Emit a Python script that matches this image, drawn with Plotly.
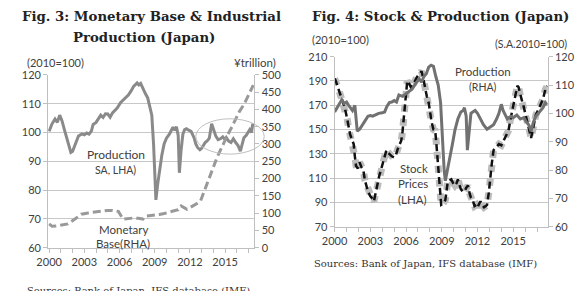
import plotly.graph_objects as go

# ---------------- Data ----------------
# Fig. 3 (left): Industrial production (SA, 2010=100, LHA)
prod3_years = [2000.0, 2000.25, 2000.5, 2000.7, 2000.9, 2001.1, 2001.3, 2001.5, 2001.7, 2001.85,
               2002.0, 2002.3, 2002.5, 2002.8, 2003.0, 2003.2, 2003.4, 2003.6, 2003.75, 2004.0,
               2004.2, 2004.4, 2004.6, 2004.8, 2005.0, 2005.2, 2005.4, 2005.6, 2005.8, 2006.1,
               2006.3, 2006.5, 2006.75, 2007.0, 2007.2, 2007.5, 2007.65, 2007.8, 2008.0, 2008.2,
               2008.4, 2008.6, 2008.75, 2008.9, 2009.0, 2009.1, 2009.25, 2009.4, 2009.6, 2009.8,
               2010.0, 2010.25, 2010.4, 2010.55, 2010.7, 2010.85, 2011.0, 2011.1, 2011.25, 2011.4,
               2011.55, 2011.7, 2011.9, 2012.1, 2012.35, 2012.5, 2012.65, 2012.85, 2013.0, 2013.15,
               2013.3, 2013.5, 2013.65, 2013.85, 2014.0, 2014.2, 2014.4, 2014.6, 2014.8, 2015.0,
               2015.1, 2015.3, 2015.5, 2015.7, 2015.9, 2016.1, 2016.3, 2016.45, 2016.6, 2016.8,
               2017.0, 2017.1, 2017.25, 2017.35, 2017.45]
prod3_values = [100.4, 103.0, 104.7, 103.5, 106.0, 104.0, 101.0, 98.0, 94.5, 93.1,
                93.5, 96.5, 98.8, 99.5, 99.2, 99.8, 99.4, 100.5, 102.8, 103.5,
                105.0, 106.0, 105.2, 106.5, 106.4, 105.3, 106.8, 107.5, 108.5, 110.4,
                111.2, 112.0, 113.0, 114.5, 116.0, 117.2, 116.5, 117.0, 115.0, 113.5,
                112.0, 109.0, 106.0, 96.0, 84.0, 76.6, 82.0, 87.0, 92.0, 96.0,
                98.0, 99.4, 100.5, 101.8, 100.8, 102.0, 99.0, 86.0, 94.0, 99.4,
                101.0, 101.3, 100.8, 100.4, 98.2, 96.0, 94.8, 94.0, 94.5, 95.5,
                96.5, 97.2, 98.0, 103.0, 101.0, 98.8, 97.5, 97.8, 98.5, 97.5,
                98.2, 97.0, 96.5, 97.8, 96.5, 95.5, 93.5, 96.0, 98.2, 99.0,
                100.5, 101.0, 100.0, 103.0, 102.0]

# Fig. 3 (left): Monetary base (yen trillion, RHA)
mbase_years = [2000.0, 2000.25, 2000.6, 2001.1, 2001.6, 2002.2, 2002.75, 2003.2, 2003.6, 2004.1,
               2004.6, 2005.0, 2005.4, 2005.9, 2006.3, 2006.7, 2007.2, 2007.6, 2008.0, 2008.2,
               2008.6, 2009.0, 2009.4, 2009.8, 2010.2, 2010.7, 2011.0, 2011.25, 2011.5, 2011.75,
               2012.0, 2012.3, 2012.6, 2012.9, 2013.2, 2013.4, 2013.6, 2013.8, 2014.0, 2014.3,
               2014.6, 2014.9, 2015.25, 2015.6, 2015.9, 2016.2, 2016.6, 2017.0, 2017.4]
mbase_values = [69, 62, 63, 66, 69, 83, 97, 100, 102, 105,
                108, 108, 108, 105, 83, 85, 86, 85, 83, 91,
                92, 94, 96, 99, 103, 107, 110, 121, 115, 111,
                116, 121, 128, 135, 163, 182, 199, 217, 235, 260,
                282, 305, 329, 351, 373, 393, 414, 440, 470]

# Fig. 4 (right): Stock prices (2010=100, LHA)
stock_years = [2000.0, 2000.1, 2000.3, 2000.5, 2000.7, 2000.85, 2001.05, 2001.2, 2001.3, 2001.45,
               2001.6, 2001.7, 2001.8, 2001.95, 2002.1, 2002.25, 2002.4, 2002.55, 2002.7, 2002.8,
               2003.0, 2003.1, 2003.3, 2003.45, 2003.6, 2003.75, 2003.9, 2004.1, 2004.35, 2004.5,
               2004.6, 2004.8, 2005.0, 2005.15, 2005.3, 2005.45, 2005.6, 2005.7, 2005.8, 2005.95,
               2006.1, 2006.25, 2006.4, 2006.55, 2006.65, 2006.9, 2007.1, 2007.3, 2007.45, 2007.6,
               2007.75, 2007.9, 2008.05, 2008.15, 2008.3, 2008.45, 2008.55, 2008.7, 2008.8, 2008.95,
               2009.1, 2009.3, 2009.5, 2009.65, 2009.8, 2009.95, 2010.1, 2010.25, 2010.35, 2010.5,
               2010.6, 2010.75, 2010.9, 2011.05, 2011.2, 2011.35, 2011.45, 2011.6, 2011.75, 2011.9,
               2012.0, 2012.15, 2012.25, 2012.4, 2012.55, 2012.7, 2012.8, 2012.95, 2013.05, 2013.2,
               2013.35, 2013.5, 2013.65, 2013.8, 2014.0, 2014.2, 2014.4, 2014.6, 2014.8, 2015.05,
               2015.2, 2015.35, 2015.45, 2015.6, 2015.7, 2015.85, 2016.0, 2016.1, 2016.3, 2016.5,
               2016.65, 2016.8, 2016.9, 2017.1, 2017.3, 2017.5, 2017.7, 2017.85]
stock_values = [192, 190, 184, 178, 172, 168, 159, 150, 146, 142,
                138, 128, 120, 118, 123, 119, 117, 108, 103, 99,
                95, 94, 91, 98, 107, 112, 117, 124, 133, 131,
                130, 128, 127, 129, 134, 137, 141, 148, 159, 175,
                190, 188, 185, 187, 188, 193, 196, 198, 192, 183,
                177, 172, 162, 156, 150, 149, 138, 118, 101, 88,
                89, 92, 107, 108, 109, 106, 104, 106, 109, 104,
                101, 99, 99, 102, 104, 97, 94, 92, 87, 88,
                86, 89, 91, 88, 86, 87, 88, 98, 109, 122,
                133, 135, 136, 138, 137, 141, 144, 149, 160, 172,
                178, 186, 185, 178, 175, 170, 164, 159, 152, 143,
                150, 158, 162, 166, 170, 175, 183, 186]

# Fig. 4 (right): Industrial production (S.A. 2010=100, RHA)
prod4_years = [2000.0, 2000.2, 2000.4, 2000.6, 2000.8, 2001.0, 2001.15, 2001.3, 2001.5, 2001.7,
               2001.8, 2001.9, 2002.1, 2002.3, 2002.5, 2002.8, 2003.0, 2003.2, 2003.4, 2003.7,
               2004.0, 2004.2, 2004.4, 2004.6, 2004.8, 2005.0, 2005.2, 2005.4, 2005.7, 2006.0,
               2006.25, 2006.5, 2006.8, 2007.1, 2007.3, 2007.5, 2007.7, 2007.9, 2008.1, 2008.3,
               2008.5, 2008.7, 2008.9, 2009.05, 2009.2, 2009.3, 2009.5, 2009.7, 2009.9, 2010.1,
               2010.35, 2010.6, 2010.8, 2010.9, 2011.05, 2011.15, 2011.3, 2011.45, 2011.6, 2011.8,
               2012.0, 2012.25, 2012.5, 2012.8, 2013.0, 2013.35, 2013.6, 2013.8, 2014.0, 2014.15,
               2014.5, 2014.8, 2015.0, 2015.3, 2015.6, 2015.9, 2016.1, 2016.3, 2016.5, 2016.7,
               2016.9, 2017.1, 2017.3, 2017.5, 2017.7, 2017.85]
prod4_values = [100.5, 102.0, 103.0, 104.8, 103.5, 104.0, 103.0, 102.0, 101.0, 102.8,
                98.0, 93.7, 94.4, 95.5, 97.0, 99.0, 99.2, 99.0, 99.4, 100.0,
                100.2, 100.5, 102.5, 103.8, 104.0, 104.5, 104.0, 106.5, 106.0, 107.0,
                107.9, 108.5, 110.5, 112.2, 111.0, 113.0, 114.0, 116.3, 117.0, 116.6,
                113.0, 110.0, 103.8, 90.0, 80.0, 76.2, 81.0, 86.0, 89.3, 94.0,
                98.0, 100.5, 101.0, 102.0, 99.0, 87.0, 95.0, 100.0, 100.5, 101.0,
                100.0, 98.0, 96.0, 94.4, 95.0, 96.0, 98.0, 100.0, 103.2, 101.0,
                98.0, 99.0, 98.5, 99.4, 98.0, 98.5, 97.0, 96.0, 93.7, 97.0,
                99.0, 100.0, 101.0, 102.0, 103.8, 103.0]

# Axis ticks
year_ticks = list(range(2000, 2018))
year_labels = [str(y) if (y - 2000) % 3 == 0 else "" for y in year_ticks]

# ---------------- Figure ----------------
W, H = 580, 291
def px(x):
    return x / W
def py(y):
    return 1 - y / H

SANS = "Lato, 'Open Sans', sans-serif"
SERIF = "'DejaVu Serif', serif"
TICKC = "#404040"
GRID = "#c8c8c8"
AXC = "#bfbfbf"

fig = go.Figure()

fig.add_trace(go.Scatter(x=mbase_years, y=mbase_values, xaxis="x", yaxis="y2", mode="lines",
                         line=dict(color="#999999", width=3, dash="8px,4px"), showlegend=False))
fig.add_trace(go.Scatter(x=prod3_years, y=prod3_values, xaxis="x", yaxis="y", mode="lines",
                         line=dict(color="#8a8a8a", width=3), showlegend=False))

fig.add_trace(go.Scatter(x=stock_years, y=stock_values, xaxis="x2", yaxis="y3", mode="lines",
                         line=dict(color="#bcbcbc", width=7, dash="dot"), showlegend=False))
fig.add_trace(go.Scatter(x=stock_years, y=stock_values, xaxis="x2", yaxis="y3", mode="lines",
                         line=dict(color="#111111", width=2.5, dash="7px,4px"), showlegend=False))
fig.add_trace(go.Scatter(x=prod4_years, y=prod4_values, xaxis="x2", yaxis="y4", mode="lines",
                         line=dict(color="#717171", width=3), showlegend=False))

tickfont = dict(family=SANS, size=11, color=TICKC)

xcommon = dict(tickmode="array", tickvals=year_ticks, ticktext=year_labels, ticks="outside",
               ticklen=4, tickcolor=AXC, showline=True, linecolor=AXC, linewidth=1,
               showgrid=False, zeroline=False, tickfont=tickfont)
ycommon = dict(showline=True, linecolor=AXC, linewidth=1, ticks="outside", ticklen=4,
               tickcolor=AXC, zeroline=False, tickfont=tickfont)

fig.update_layout(
    width=W, height=H, margin=dict(l=0, r=0, t=0, b=0),
    paper_bgcolor="white", plot_bgcolor="white",
    xaxis=dict(domain=[px(36), px(247)], range=[1999.92, 2017.5], anchor="y", **xcommon),
    yaxis=dict(domain=[py(252), py(71)], range=[60, 120], tick0=60, dtick=10, anchor="x",
               showgrid=True, gridcolor=GRID, gridwidth=1, **ycommon),
    yaxis2=dict(range=[0, 500], tick0=0, dtick=50, overlaying="y", side="right", anchor="x",
                showgrid=False, **ycommon),
    xaxis2=dict(domain=[px(329), px(547)], range=[2000.0, 2017.9], anchor="y3", **xcommon),
    yaxis3=dict(domain=[py(230), py(52)], range=[70, 210], tick0=70, dtick=20, anchor="x2",
                showgrid=True, gridcolor=GRID, gridwidth=1, **ycommon),
    yaxis4=dict(range=[60, 120], tick0=60, dtick=10, overlaying="y3", side="right", anchor="x2",
                showgrid=False, **ycommon),
)

def note(text, x, y, size=11, family=SANS, color="#404040", bold=False):
    fig.add_annotation(text=f"<b>{text}</b>" if bold else text, x=px(x), y=py(y),
                       xref="paper", yref="paper", showarrow=False,
                       xanchor="center", yanchor="middle",
                       font=dict(family=family, size=size, color=color))

# Titles
note("Fig. 3: Monetary Base &amp; Industrial", 142, 10, size=13.3, family=SERIF, color="#222222", bold=True)
note("Production (Japan)", 134, 32, size=13.3, family=SERIF, color="#222222", bold=True)
note("Fig. 4: Stock &amp; Production (Japan)", 437, 10, size=13.3, family=SERIF, color="#222222", bold=True)

# Unit labels
note("(2010=100)", 43, 58, size=11)
note("¥trillion)", 248, 58, size=11.5)
note("(2010=100)", 335, 34, size=11)
note("(S.A.2010=100)", 530, 39, size=10.5)

# Series labels, Fig. 3
note("Production", 105, 154, size=12)
note("SA, LHA)", 105, 171, size=10.5)
note("Monetary", 113, 233, size=11.5)
note("Base(RHA)", 113, 248, size=11.5)

# Series labels, Fig. 4
note("Production", 481, 67, size=11.5)
note("(RHA)", 481, 84, size=10.5)
note("Stock", 410, 169, size=11.5)
note("Prices", 409, 185, size=11.5)
note("(LHA)", 409, 202, size=11.5)

# Sources
note("Sources: Bank of Japan, IFS database (IMF)", 422, 269, size=10, family=SERIF, color="#333333")
note("Sources: Bank of Japan, IFS database (IMF)", 128, 297, size=10, family=SERIF, color="#333333")

# Ellipse highlighting recent period
fig.add_shape(type="circle", xref="paper", yref="paper",
              x0=px(187), x1=px(257), y0=py(154), y1=py(117),
              line=dict(color="#c0c0c0", width=1))

fig.write_html("out.html")
